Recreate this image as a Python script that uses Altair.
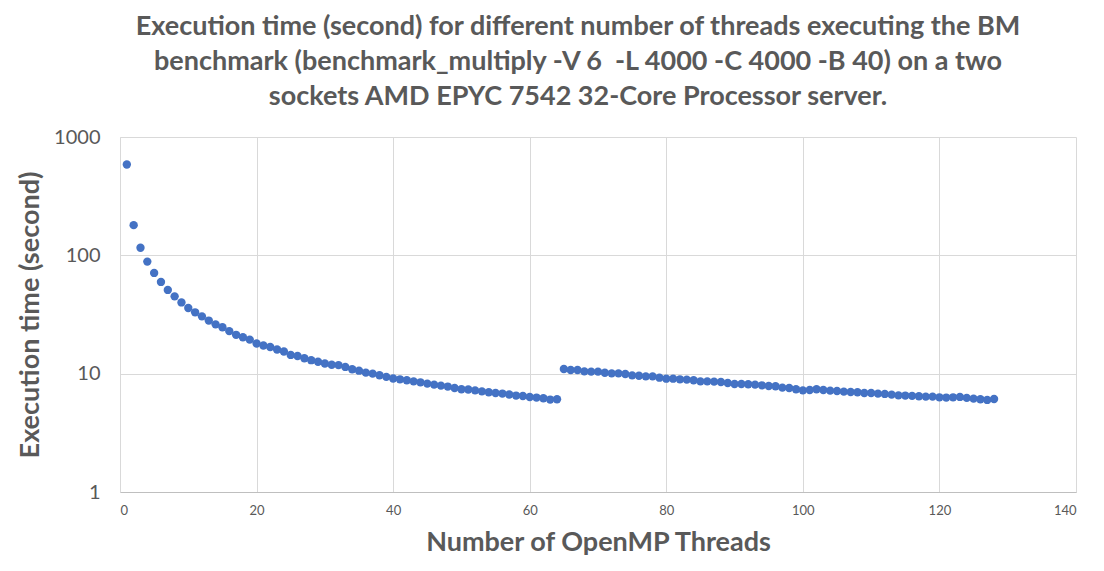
import altair as alt
import pandas as pd

threads = list(range(1, 129))
exec_time = [
    585, 180, 116, 88.5, 71, 59.6, 51, 45, 40, 35.9,
    33, 30.5, 28.1, 26.1, 24.7, 22.9, 21.3, 20.3, 19.4, 18.0,
    17.3, 16.8, 16.0, 15.4, 14.4, 14.1, 13.5, 13.0, 12.6, 12.2,
    11.9, 11.8, 11.4, 10.9, 10.6, 10.2, 10.0, 9.7, 9.4, 9.1,
    8.96, 8.79, 8.61, 8.45, 8.24, 8.08, 7.92, 7.78, 7.57, 7.38,
    7.35, 7.23, 7.09, 6.96, 6.87, 6.79, 6.66, 6.53, 6.48, 6.35,
    6.28, 6.20, 6.04, 6.08,
    10.94, 10.73, 10.73, 10.45, 10.40, 10.40, 10.19, 10.06, 10.06, 9.93,
    9.68, 9.61, 9.49, 9.49, 9.25, 9.07, 9.07, 8.96, 8.90, 8.79,
    8.61, 8.61, 8.56, 8.50, 8.34, 8.18, 8.18, 8.13, 8.08, 7.97,
    7.87, 7.82, 7.62, 7.57, 7.38, 7.23, 7.28, 7.38, 7.28, 7.19,
    7.14, 7.05, 7.00, 6.96, 6.87, 6.87, 6.78, 6.74, 6.65, 6.56,
    6.53, 6.49, 6.44, 6.40, 6.40, 6.31, 6.28, 6.31, 6.36, 6.24,
    6.15, 6.08, 6.00, 6.11,
]
x_ticks = [0, 20, 40, 60, 80, 100, 120, 140]
y_ticks = [1, 10, 100, 1000]
title_lines = [
    "Execution time (second) for different number of threads executing the BM",
    "benchmark (benchmark_multiply -V 6 \u00a0-L 4000 -C 4000 -B 40) on a two",
    "sockets AMD EPYC 7542 32-Core Processor server.",
]

df = pd.DataFrame({"threads": threads, "time": exec_time})

FONT = "Lato"
GRAY = "#595959"

chart = (
    alt.Chart(df)
    .mark_circle(size=70, color="#4472C4", opacity=1)
    .encode(
        x=alt.X(
            "threads:Q",
            scale=alt.Scale(domain=[0, 140], nice=False),
            axis=alt.Axis(
                values=x_ticks,
                title="Number of OpenMP Threads",
                titleFontSize=27,
                titleFont=FONT,
                titleFontWeight="bold",
                titleColor=GRAY,
                titlePadding=12,
                labelFontSize=13,
                labelFont=FONT,
                labelColor=GRAY,
                labelPadding=12,
                ticks=False,
                domainColor="#bfbfbf",
                gridColor="#d9d9d9",
            ),
        ),
        y=alt.Y(
            "time:Q",
            scale=alt.Scale(type="log", domain=[1, 1000], nice=False),
            axis=alt.Axis(
                values=y_ticks,
                format="d",
                title="Execution time (second)",
                titleFontSize=27,
                titleFont=FONT,
                titleFontWeight="bold",
                titleColor=GRAY,
                titlePadding=9,
                labelFontSize=20,
                labelFont=FONT,
                labelColor=GRAY,
                labelPadding=20,
                ticks=False,
                domainColor="#d9d9d9",
                gridColor="#d9d9d9",
            ),
        ),
    )
    .properties(
        width=956,
        height=355,
        title=alt.TitleParams(
            text=title_lines,
            font=FONT,
            fontSize=27,
            fontWeight="bold",
            color=GRAY,
            lineHeight=35,
            anchor="middle",
            dx=-20,
            offset=16,
        ),
        autosize=alt.AutoSizeParams(type="none"),
        padding={"left": 120, "top": 137, "right": 28, "bottom": 79},
    )
    .configure_view(stroke=None)
)

chart.save("out.html", embed_options={"renderer": "svg", "actions": False})
